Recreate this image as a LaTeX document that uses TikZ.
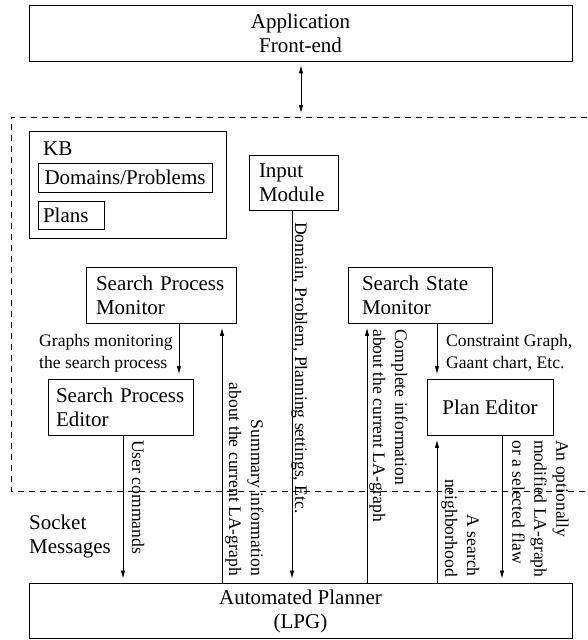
\documentclass[tikz,border=0pt]{standalone}
\usepackage{fontspec}
\setmainfont{Liberation Serif}
\usetikzlibrary{arrows.meta}
\newcommand\mainsz{\fontsize{21}{24}\selectfont}
\newcommand\labsz{\fontsize{17.6}{22}\selectfont}
\begin{document}
\begin{tikzpicture}[x=1pt,y=-1pt,
  box/.style={draw, line width=0.9pt, inner ysep=0pt, font=\mainsz, align=left},
  lab/.style={inner sep=0pt, font=\labsz},
  vlab/.style={lab, rotate=-90},
  arr/.style={line width=0.8pt, -{Latex[length=8pt,width=4.5pt]}, shorten >=4.5pt},
  dblarr/.style={line width=0.8pt, {Latex[length=8pt,width=4.5pt]}-{Latex[length=8pt,width=4.5pt]}},
  region/.style={line width=0.8pt, dash pattern=on 6pt off 5pt}]
\useasboundingbox (0,0) rectangle (587,640);

% front end and planner
\node[box, align=center, minimum width=543pt, minimum height=56pt] (app) at (300.5,33) {Application\\Front-end};
\node[box, align=center, minimum width=543pt, minimum height=55pt] (lpg) at (300.5,611) {Automated Planner\\(LPG)};

% GUI region
\draw[region] (587,117) -- (11,117) -- (11,491) -- (587,491);

% knowledge base
\node[box, minimum width=197pt, minimum height=107pt] (kb) at (127.5,184.5) {};
\node[anchor=base west, inner sep=0pt, font=\mainsz] (kbt) at (43,155) {KB};
\node[box, align=center, minimum width=174pt, minimum height=29pt, inner xsep=0pt] (dom) at (125,177.5) {Domains/Problems};
\node[box, text width=56pt, inner xsep=5pt, minimum height=28pt] (pln) at (71,215) {Plans};

% modules
\node[box, text width=69pt, inner xsep=10pt, minimum height=55pt] (inp) at (293.5,182.5) {Input\\Module};
\node[box, text width=130pt, inner xsep=10pt, minimum height=56pt] (spm) at (161,295) {Search Process\\Monitor};
\node[box, text width=129pt, inner xsep=8pt, minimum height=56pt] (spe) at (120.5,407) {Search Process\\Editor};
\node[box, text width=116pt, inner xsep=14pt, minimum height=56pt] (ssm) at (420,295) {Search State\\Monitor};
\node[box, align=center, minimum width=126pt, minimum height=56pt] (ped) at (490,407) {Plan Editor};

% columns of the connectors
\coordinate (fe) at (301,113);
\coordinate (xa) at (179,0);
\coordinate (xb) at (123,0);
\coordinate (xc) at (222,0);
\coordinate (xd) at (292,0);
\coordinate (xe) at (367,0);
\coordinate (xf) at (437,0);
\coordinate (xg) at (502,0);

% connectors
\draw[dblarr] ([yshift=-4pt]app.south -| fe) -- (fe);
\draw[arr] (spm.south -| xa) -- (spe.north -| xa);
\draw[arr] (spe.south -| xb) -- (lpg.north -| xb);
\draw[arr] (lpg.north -| xc) -- (spm.south -| xc);
\draw[arr] (inp.south -| xd) -- (lpg.north -| xd);
\draw[arr] (lpg.north -| xe) -- (ssm.south -| xe);
\draw[arr] (ssm.south -| xf) -- (ped.north -| xf);
\draw[arr] (lpg.north -| xf) -- (ped.south -| xf);
\draw[arr] (ped.south -| xg) -- (lpg.north -| xg);

% horizontal labels
\node[lab, anchor=west, align=left] (l1) at (39,353) {Graphs monitoring\\the search process};
\node[lab, anchor=west, align=left] (l2) at (446,353) {Constraint Graph,\\Gaant chart, Etc.};
\node[anchor=west, align=left, inner sep=0pt, font=\mainsz] (sock) at (29,536) {Socket\\Messages};

% labels along the connectors
\node[vlab, anchor=base west] (l3) at (132,440) {User commands};
\node[vlab, anchor=south east, align=right] (l4) at (225,576) {Summary information\\about the current LA-graph};
\node[vlab, anchor=base west] (l5) at (295,222) {Domain, Problem, Planning settings, Etc.};
\node[vlab, anchor=south west, align=left] (l6) at (369,329) {Complete information\\about the current LA-graph};
\node[vlab, anchor=south east, align=right] (l7) at (441,577) {A search\\neighborhood};
\node[vlab, anchor=south west, align=left] (l8) at (512,440) {An optionally\\modified LA-graph\\or a selected flaw};
\end{tikzpicture}
\end{document}
